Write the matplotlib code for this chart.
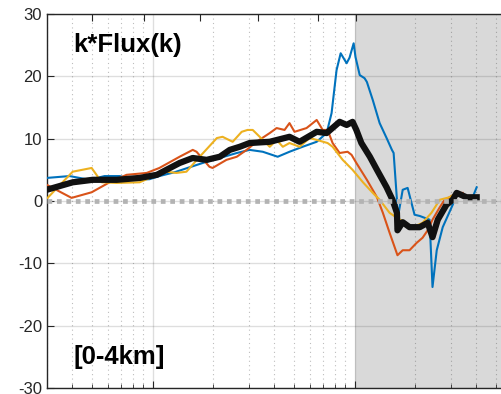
import matplotlib
matplotlib.use("Agg")
import matplotlib.pyplot as plt
from matplotlib.ticker import LogLocator, NullFormatter, NullLocator

# ---------------- data ----------------
k_blue = [0.00299, 0.00388, 0.00488, 0.00578, 0.00687, 0.00814, 0.00966, 0.0108, 0.0128,
          0.0177, 0.0215, 0.0261, 0.0302, 0.0351, 0.0416, 0.0476, 0.0553, 0.0649, 0.0727,
          0.0769, 0.0814, 0.0853, 0.0913, 0.0944, 0.0989, 0.101, 0.106, 0.112, 0.115,
          0.123, 0.133, 0.144, 0.153, 0.156, 0.162, 0.163, 0.173, 0.183, 0.198, 0.210,
          0.235, 0.243, 0.255, 0.273, 0.306, 0.324, 0.343, 0.384, 0.402]
f_blue = [3.7, 4.0, 3.4, 4.0, 4.0, 3.4, 3.5, 4.0, 4.6,
          6.1, 6.9, 7.7, 8.2, 7.9, 7.1, 7.9, 8.7, 9.5, 10.9,
          14.1, 21.0, 23.7, 22.1, 23.0, 25.3, 23.1, 20.2, 19.7, 19.1,
          16.2, 12.5, 10.1, 8.2, 7.7, 0.2, -3.0, 1.8, 2.1, -2.2, -2.4,
          -3.0, -13.8, -7.9, -4.2, -0.6, 1.4, 1.0, 0.6, 2.2]

k_red = [0.00299, 0.00397, 0.00499, 0.00612, 0.00743, 0.00934, 0.0108, 0.0136, 0.0158,
         0.0165, 0.0191, 0.0198, 0.0232, 0.0261, 0.0292, 0.0327, 0.0380, 0.0411, 0.0450,
         0.0476, 0.0504, 0.0578, 0.0649, 0.0695, 0.0735, 0.0778, 0.0843, 0.0923, 0.0966,
         0.102, 0.115, 0.129, 0.138, 0.149, 0.163, 0.173, 0.187, 0.203, 0.217, 0.230,
         0.243, 0.264, 0.279, 0.295, 0.320, 0.343]
f_red = [2.6, 0.5, 1.4, 3.0, 4.2, 4.5, 5.3, 7.1, 8.2,
         7.9, 5.5, 5.3, 6.6, 7.1, 8.2, 9.5, 10.9, 11.7, 11.4,
         12.5, 11.1, 11.7, 13.0, 11.4, 11.4, 9.3, 7.7, 7.9, 7.4,
         6.1, 3.4, 0.6, -1.9, -5.1, -8.7, -7.9, -7.9, -6.7, -5.9, -4.7,
         -3.0, -1.0, 0.2, 0.6, 1.3, 1.3]

k_yellow = [0.00302, 0.00402, 0.00499, 0.00560, 0.00664, 0.00862, 0.0100, 0.0117, 0.0131,
            0.0147, 0.0171, 0.0208, 0.0222, 0.0249, 0.0276, 0.0295, 0.0313, 0.0339, 0.0380,
            0.0411, 0.0441, 0.0476, 0.0534, 0.0599, 0.0649, 0.0735, 0.0778, 0.0873, 0.0977,
            0.110, 0.123, 0.133, 0.149, 0.162, 0.194, 0.217, 0.240, 0.264, 0.295, 0.320]
f_yellow = [0.5, 4.7, 5.3, 3.0, 2.9, 3.0, 3.9, 4.7, 4.5,
            4.7, 7.1, 10.1, 10.3, 9.5, 11.1, 11.4, 11.4, 10.3, 8.7,
            9.8, 8.7, 9.3, 8.7, 10.1, 9.8, 9.3, 8.7, 6.6, 5.0,
            3.0, 1.3, 0.2, -1.9, -2.7, -4.2, -3.5, -1.9, 0.2, 0.6, 1.3]

k_mean = [0.00299, 0.00402, 0.00505, 0.00664, 0.00862, 0.0105, 0.0117, 0.0136, 0.0158,
          0.0185, 0.0215, 0.0241, 0.0270, 0.0302, 0.0380, 0.0476, 0.0534, 0.0649, 0.0727,
          0.0843, 0.0913, 0.0977, 0.102, 0.108, 0.119, 0.129, 0.144, 0.154, 0.162, 0.163,
          0.173, 0.187, 0.210, 0.230, 0.243, 0.258, 0.285, 0.306, 0.320, 0.358, 0.402]
f_mean = [1.8, 3.0, 3.4, 3.4, 3.7, 4.2, 5.0, 6.1, 6.9,
          6.6, 7.1, 8.2, 8.7, 9.3, 9.5, 10.3, 9.5, 11.1, 10.9,
          12.7, 12.2, 12.7, 11.4, 9.3, 7.1, 5.0, 2.2, 0.2, -1.9, -4.7,
          -3.4, -4.2, -4.2, -3.5, -5.8, -3.0, -0.6, 0.2, 1.3, 0.6, 0.6]

shade_start = 0.1
top_ticks = [0.00499, 0.00903, 0.0171, 0.0331, 0.0656, 0.102]
y_ticks = [-30, -20, -10, 0, 10, 20, 30]
title_text = "k*Flux(k)"
layer_text = "[0-4km]"

# ---------------- figure ----------------
plt.rcParams['font.family'] = ['Liberation Sans', 'DejaVu Sans']
fig = plt.figure(figsize=(5.02, 3.94), dpi=100)
W, H = 502, 394
ax = fig.add_axes([47 / W, 6 / H, 464.8 / W, 374 / H])
ax.set_xscale('log')
ax.set_xlim(0.003, 0.6)
ax.set_ylim(-30, 30)

ax.axvspan(shade_start, 10, color='#d9d9d9', zorder=0, lw=0)

ax.xaxis.set_major_locator(LogLocator(base=10, numticks=10))
ax.xaxis.set_minor_locator(LogLocator(base=10, subs=range(2, 10), numticks=20))
ax.xaxis.set_major_formatter(NullFormatter())
ax.xaxis.set_minor_formatter(NullFormatter())

ax.grid(which='major', color=(0.15, 0.15, 0.15), alpha=0.15, lw=1.0, ls='-', zorder=1)
ax.grid(which='minor', axis='x', color=(0.15, 0.15, 0.15), alpha=0.3, lw=0.8,
        ls=(0, (1, 3)), zorder=1)
ax.set_axisbelow(True)

ax.plot(k_blue, f_blue, color='#0072BD', lw=1.5, zorder=3)
ax.plot(k_red, f_red, color='#D95319', lw=1.5, zorder=3)
ax.plot(k_yellow, f_yellow, color='#EDB120', lw=1.5, zorder=3)
ax.plot(k_mean, f_mean, color='#111111', lw=4.5, zorder=4, solid_joinstyle='round')

ax.axhline(0, color='#b3b3b3', lw=3.4, ls=(0, (1, 1)), dash_capstyle='butt', zorder=5)

ax.tick_params(axis='both', which='both', direction='in', colors='#262626',
               labelsize=12, top=False, right=False)
ax.tick_params(axis='both', which='major', length=5, width=0.8)
ax.tick_params(axis='x', which='minor', length=3, width=0.6)
for side in ['left', 'bottom', 'top']:
    ax.spines[side].set_color('#262626')
    ax.spines[side].set_linewidth(1.0)
ax.spines['right'].set_visible(False)

top = ax.twiny()
top.set_xscale('log')
top.set_xlim(ax.get_xlim())
top.set_xticks(top_ticks)
top.xaxis.set_minor_locator(NullLocator())
top.xaxis.set_major_formatter(NullFormatter())
top.tick_params(axis='x', which='major', direction='in', length=5, width=0.8,
                labeltop=False, colors='#262626')
for s in top.spines.values():
    s.set_visible(False)

ax.set_yticks(y_ticks)
ax.set_yticklabels([str(v) for v in y_ticks])
ax.set_ylim(-30, 30)

ax.text(0.056, 0.917, title_text, transform=ax.transAxes, fontsize=18.5,
        fontweight='bold', va='center', ha='left', color='black', zorder=6)
ax.text(0.056, 0.083, layer_text, transform=ax.transAxes, fontsize=18.5,
        fontweight='bold', va='center', ha='left', color='black', zorder=6)

fig.savefig('out.png', dpi=100)
